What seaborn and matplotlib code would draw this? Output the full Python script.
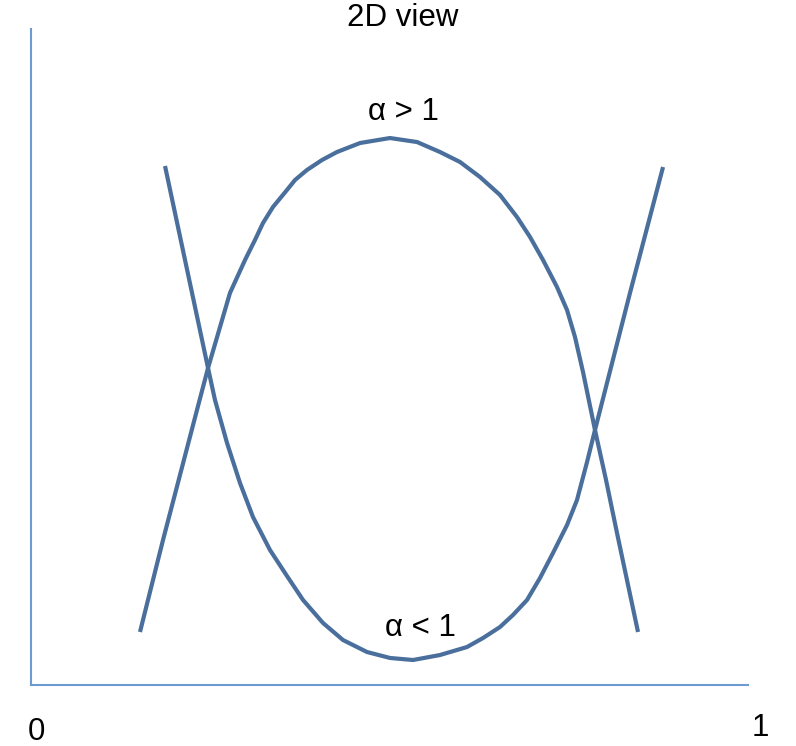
import pandas as pd
import matplotlib
matplotlib.use("Agg")
import matplotlib.pyplot as plt
import seaborn as sns

# curve, alpha > 1 (inverted U)
x_gt = [0.152, 0.1841, 0.2315, 0.2469, 0.2775, 0.2985, 0.3124, 0.3236, 0.3375, 0.3570,
        0.3682, 0.3849, 0.4059, 0.4268, 0.4589, 0.5007, 0.5384, 0.5704, 0.5983, 0.6262,
        0.6541, 0.6778, 0.6960, 0.7141, 0.7336, 0.7476, 0.7587, 0.7699, 0.7866, 0.8020,
        0.8173, 0.8466]
y_gt = [0.0808, 0.2210, 0.4192, 0.4832, 0.5976, 0.6479, 0.6784, 0.7043, 0.7287, 0.7546,
        0.7698, 0.7851, 0.8003, 0.8125, 0.8262, 0.8338, 0.8277, 0.8125, 0.7973, 0.7744,
        0.7470, 0.7134, 0.6829, 0.6479, 0.6067, 0.5716, 0.5305, 0.4771, 0.3887, 0.3125,
        0.2317, 0.0808]

# alpha < 1 (U)
x_lt = [0.1869, 0.2148, 0.2469, 0.2566, 0.2734, 0.2915, 0.3096, 0.3333, 0.3570, 0.3794,
        0.4073, 0.4351, 0.4686, 0.5007, 0.5328, 0.5704, 0.6081, 0.6304, 0.6541, 0.6722,
        0.6918, 0.7099, 0.7280, 0.7476, 0.7615, 0.7755, 0.7866, 0.8354, 0.8815]
y_lt = [0.7912, 0.6479, 0.4832, 0.4345, 0.3689, 0.3079, 0.2561, 0.2058, 0.1662, 0.1296,
        0.0945, 0.0686, 0.0503, 0.0412, 0.0381, 0.0457, 0.0579, 0.0716, 0.0884, 0.1067,
        0.1296, 0.1631, 0.2012, 0.2439, 0.2820, 0.3399, 0.3887, 0.5976, 0.7896]

df = pd.concat([
    pd.DataFrame({'x': x_gt, 'y': y_gt, 'curva': 'α > 1'}),
    pd.DataFrame({'x': x_lt, 'y': y_lt, 'curva': 'α < 1'}),
])

sns.set_theme(style="white")
plt.rcParams['font.family'] = ['Liberation Sans', 'DejaVu Sans']
plt.rcParams['text.color'] = 'black'

fig = plt.figure(figsize=(7.96, 7.46), dpi=100)
ax = fig.add_axes([31 / 796, 61 / 746, 717 / 796, 656 / 746])

cor_linha = '#4a6f9c'
sns.lineplot(data=df, x='x', y='y', units='curva', estimator=None, sort=False,
             color=cor_linha, linewidth=3, legend=False, ax=ax,
             solid_joinstyle='round', solid_capstyle='butt')

ax.set_xlim(0, 1)
ax.set_ylim(0, 1)
ax.set_xticks([])
ax.set_yticks([])
ax.set_xlabel('')
ax.set_ylabel('')
for lado in ['top', 'right']:
    ax.spines[lado].set_visible(False)
for lado in ['left', 'bottom']:
    ax.spines[lado].set_color('#6b9bd1')
    ax.spines[lado].set_linewidth(1.5)

fs = 22.5
ax.text(0.519, 1.017, '2D view', ha='center', va='center', fontsize=fs, clip_on=False)
ax.text(0.519, 0.873, 'α > 1', ha='center', va='center', fontsize=fs)
ax.text(0.5425, 0.087, 'α < 1', ha='center', va='center', fontsize=fs)
ax.text(0.008, -0.072, '0', ha='center', va='center', fontsize=fs, clip_on=False)
ax.text(1.017, -0.0655, '1', ha='center', va='center', fontsize=fs, clip_on=False)

fig.savefig('out.png', dpi=100)
plt.close(fig)
